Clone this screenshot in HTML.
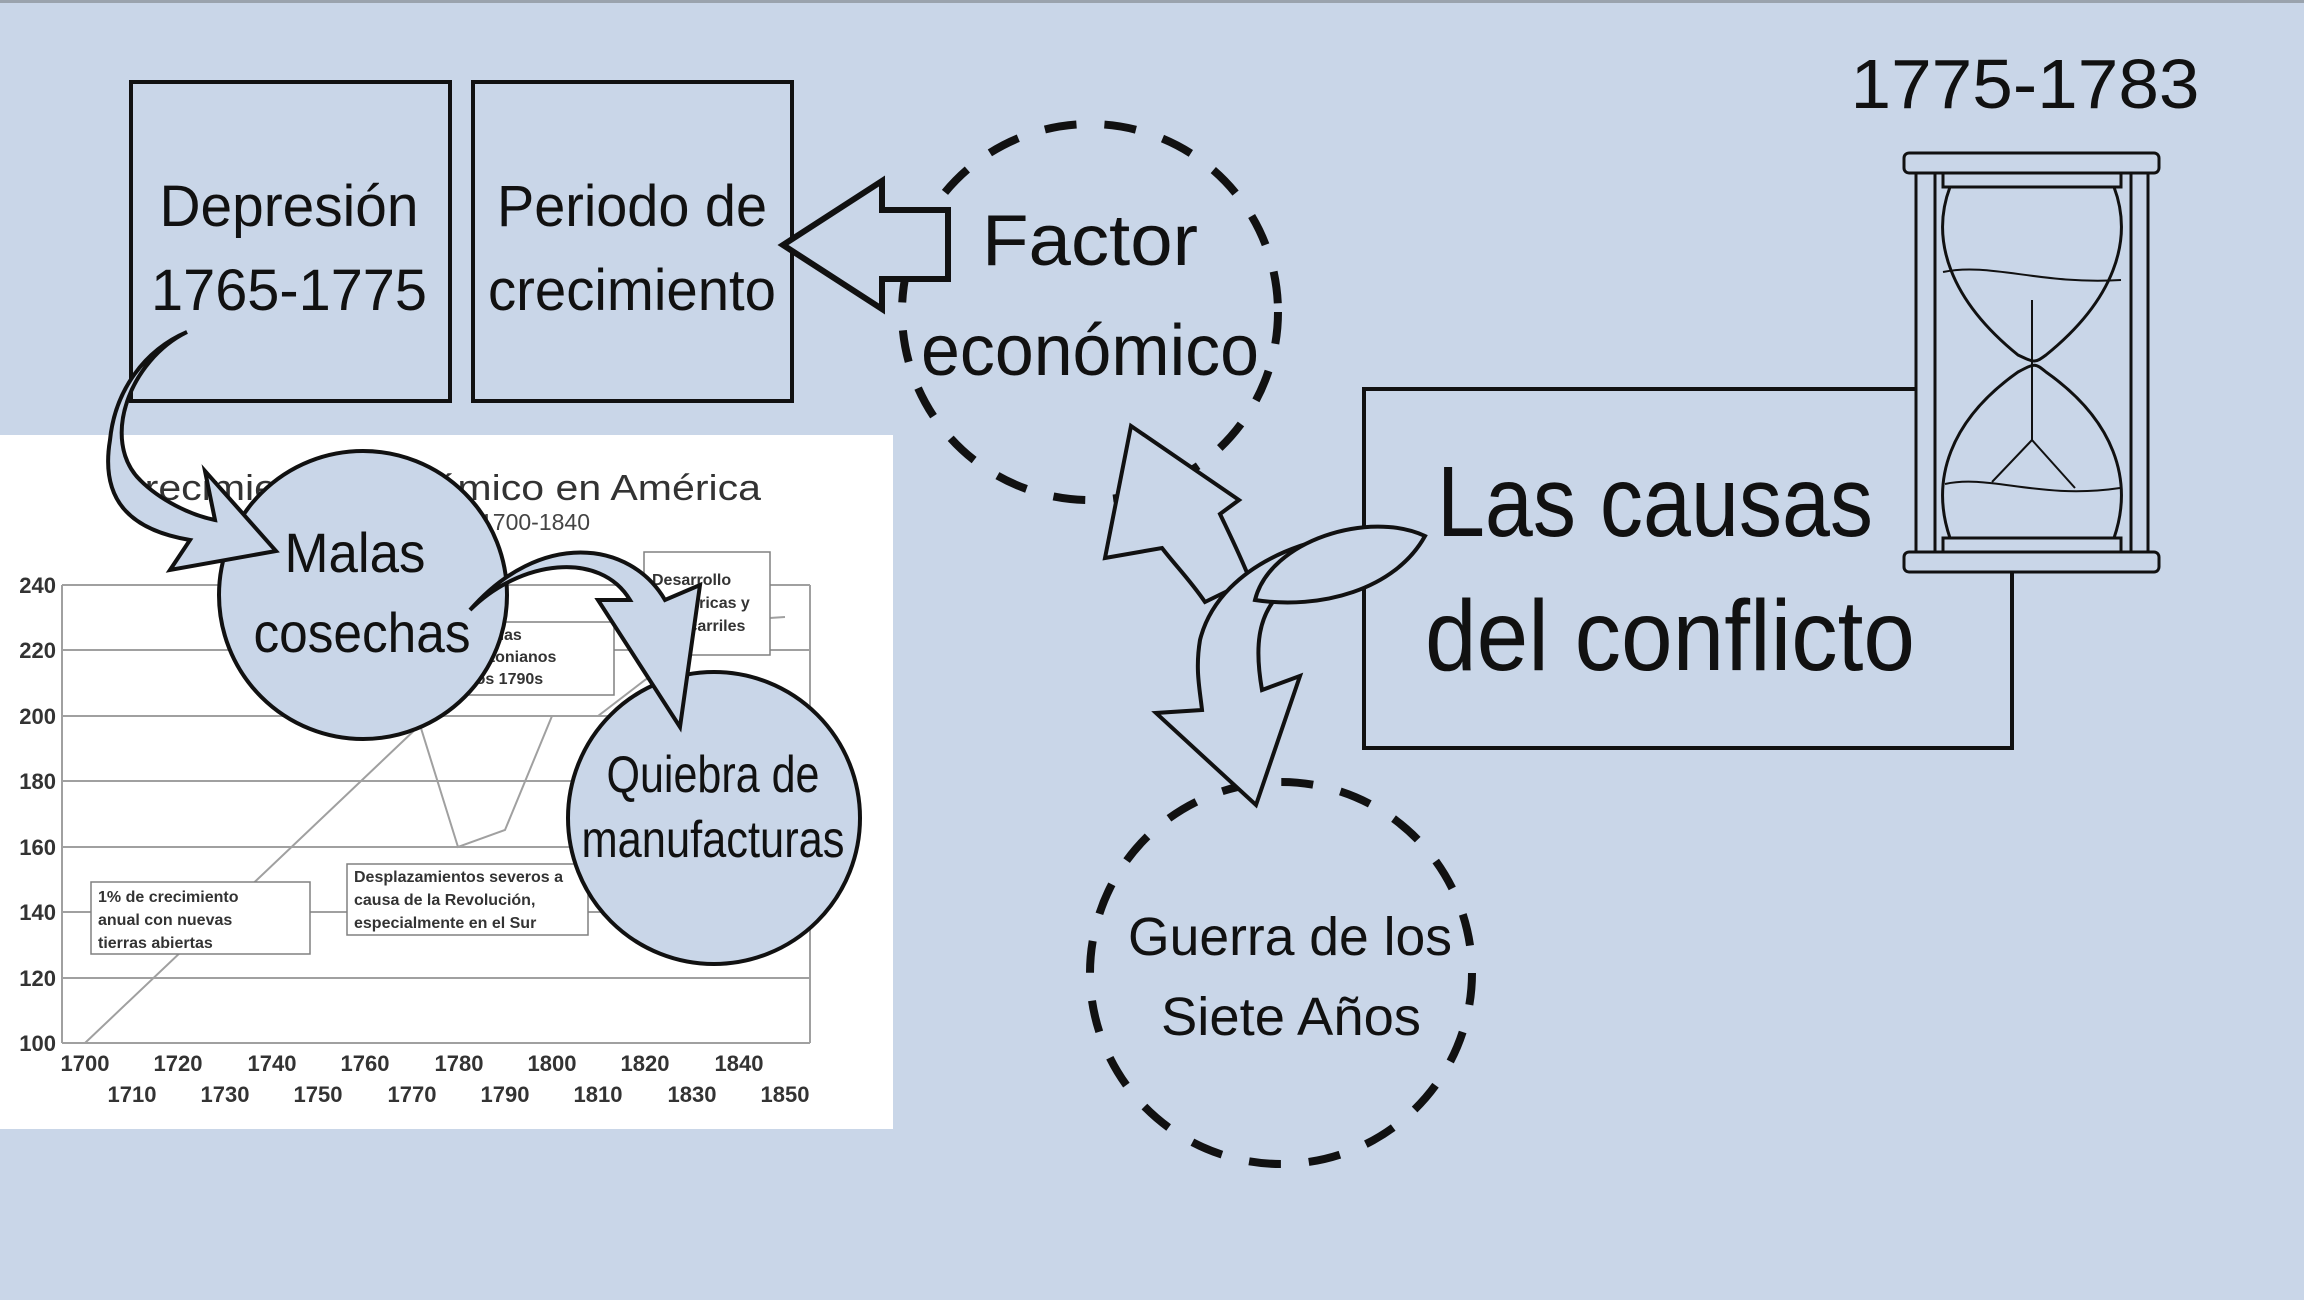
<!DOCTYPE html>
<html><head><meta charset="utf-8"><style>
html,body{margin:0;padding:0;background:#c9d6e8;}
svg{display:block;}
text{font-family:"Liberation Sans",sans-serif;}
</style></head><body>
<svg width="2304" height="1300" viewBox="0 0 2304 1300" xmlns="http://www.w3.org/2000/svg">
<rect x="0" y="0" width="2304" height="1300" fill="#c9d6e8"/>
<rect x="0" y="0" width="2304" height="3" fill="#9aa3ad"/>

<!-- chart -->
<rect x="0" y="435" width="893" height="694" fill="#ffffff"/>
<g stroke="#a0a0a0" stroke-width="2" fill="none">
  <line x1="62" y1="585" x2="810" y2="585"/>
  <line x1="62" y1="650" x2="810" y2="650"/>
  <line x1="62" y1="716" x2="810" y2="716"/>
  <line x1="62" y1="781" x2="810" y2="781"/>
  <line x1="62" y1="847" x2="810" y2="847"/>
  <line x1="62" y1="912" x2="810" y2="912"/>
  <line x1="62" y1="978" x2="810" y2="978"/>
  <line x1="62" y1="1043" x2="810" y2="1043"/>
  <line x1="62" y1="585" x2="62" y2="1043"/>
  <line x1="810" y1="585" x2="810" y2="1043"/>
  <polyline points="85,1043 420,725 458,847 505,830 552,716 598,716 645,680 692,650 739,620 785,617"/>
</g>
<g stroke="#808080" stroke-width="1.5" fill="#fff">
  <rect x="91" y="882" width="219" height="72"/>
  <rect x="347" y="864" width="241" height="71"/>
  <rect x="441" y="622" width="173" height="73"/>
  <rect x="644" y="552" width="126" height="103"/>
</g>
<g font-size="16" font-weight="bold" fill="#333">
  <text x="98" y="902">1% de crecimiento</text>
  <text x="98" y="925">anual con nuevas</text>
  <text x="98" y="948">tierras abiertas</text>
  <text x="354" y="882">Desplazamientos severos a</text>
  <text x="354" y="905">causa de la Revolución,</text>
  <text x="354" y="928">especialmente en el Sur</text>
  <text x="448" y="640">Reformas</text>
  <text x="448" y="662">hamiltonianos</text>
  <text x="448" y="684">de los 1790s</text>
  <text x="652" y="585">Desarrollo</text>
  <text x="652" y="608">de fábricas y</text>
  <text x="652" y="631">ferrocarriles</text>
</g>
<text x="115" y="500" font-size="36" fill="#333" textLength="646" lengthAdjust="spacingAndGlyphs">Crecimiento económico en América</text>
<text x="480" y="530" font-size="23" fill="#444">1700-1840</text>
<g font-size="22" font-weight="bold" fill="#333" text-anchor="end">
  <text x="56" y="593">240</text><text x="56" y="658">220</text><text x="56" y="724">200</text>
  <text x="56" y="789">180</text><text x="56" y="855">160</text><text x="56" y="920">140</text>
  <text x="56" y="986">120</text><text x="56" y="1051">100</text>
</g>
<g font-size="22" font-weight="bold" fill="#333" text-anchor="middle">
  <text x="85" y="1071">1700</text><text x="178" y="1071">1720</text><text x="272" y="1071">1740</text>
  <text x="365" y="1071">1760</text><text x="459" y="1071">1780</text><text x="552" y="1071">1800</text>
  <text x="645" y="1071">1820</text><text x="739" y="1071">1840</text>
  <text x="132" y="1102">1710</text><text x="225" y="1102">1730</text><text x="318" y="1102">1750</text>
  <text x="412" y="1102">1770</text><text x="505" y="1102">1790</text><text x="598" y="1102">1810</text>
  <text x="692" y="1102">1830</text><text x="785" y="1102">1850</text>
</g>

<!-- top boxes -->
<g stroke="#111" stroke-width="4" fill="none">
  <rect x="131" y="82" width="319" height="319"/>
  <rect x="473" y="82" width="319" height="319"/>
</g>
<g font-size="58" fill="#111" text-anchor="middle">
  <text x="289" y="226" textLength="259" lengthAdjust="spacingAndGlyphs">Depresión</text>
  <text x="289" y="310" textLength="276" lengthAdjust="spacingAndGlyphs">1765-1775</text>
  <text x="632" y="226" textLength="270" lengthAdjust="spacingAndGlyphs">Periodo de</text>
  <text x="632" y="310" textLength="288" lengthAdjust="spacingAndGlyphs">crecimiento</text>
</g>

<!-- Factor económico dashed circle -->
<circle cx="1090" cy="312" r="188" fill="none" stroke="#111" stroke-width="8" stroke-dasharray="32 28"/>

<!-- left open arrow -->
<path d="M948,210 L882,210 L882,181 L783,245 L882,309 L882,279 L948,279 Z" fill="#c9d6e8" stroke="#111" stroke-width="6" stroke-linejoin="miter"/>

<g font-size="72" fill="#111" text-anchor="middle">
  <text x="1090" y="265" textLength="216" lengthAdjust="spacingAndGlyphs">Factor</text>
  <text x="1090" y="375" textLength="338" lengthAdjust="spacingAndGlyphs">económico</text>
</g>

<!-- Las causas box -->
<rect x="1364" y="389" width="648" height="359" fill="none" stroke="#111" stroke-width="4"/>
<g font-size="100" fill="#111">
  <text x="1437" y="536" textLength="436" lengthAdjust="spacingAndGlyphs">Las causas</text>
  <text x="1425" y="670" textLength="490" lengthAdjust="spacingAndGlyphs">del conflicto</text>
</g>
<text x="2025" y="108" font-size="70" fill="#111" text-anchor="middle" textLength="349" lengthAdjust="spacingAndGlyphs">1775-1783</text>

<!-- hourglass -->
<g stroke="#111" stroke-width="3" fill="#c9d6e8">
  <rect x="1935" y="170" width="196" height="385" stroke="none"/>
  <rect x="1916" y="170" width="19" height="385"/>
  <rect x="2131" y="170" width="17" height="385"/>
  <rect x="1904" y="153" width="255" height="20" rx="5"/>
  <rect x="1904" y="552" width="255" height="20" rx="5"/>
  <rect x="1943" y="173" width="178" height="14"/>
  <rect x="1943" y="538" width="178" height="14"/>
  <path d="M1950,187 C1930,240 1950,300 2018,355 C2035,363 2035,363 2046,355 C2114,300 2134,240 2114,187 Z" fill="none"/>
  <path d="M1950,538 C1930,480 1950,420 2018,372 C2035,363 2035,363 2046,372 C2114,420 2134,480 2114,538 Z" fill="none"/>
  <path d="M1943,272 C1990,262 2040,285 2121,280" fill="none" stroke-width="2"/>
  <path d="M1945,484 C1990,474 2040,500 2120,488" fill="none" stroke-width="2"/>
  <line x1="2032" y1="300" x2="2032" y2="440" stroke-width="2"/>
  <path d="M2032,440 L1992,482 M2032,440 L2075,488" fill="none" stroke-width="2"/>
</g>

<!-- Guerra dashed circle -->
<circle cx="1281" cy="973" r="191" fill="none" stroke="#111" stroke-width="8" stroke-dasharray="32 28"/>
<g font-size="54" fill="#111" text-anchor="middle">
  <text x="1290" y="955" textLength="324" lengthAdjust="spacingAndGlyphs">Guerra de los</text>
  <text x="1291" y="1035" textLength="260" lengthAdjust="spacingAndGlyphs">Siete Años</text>
</g>

<!-- up arrow to Factor -->
<path d="M1205,602 C1190,580 1175,565 1162,548 L1105,558 L1131,426 L1239,500 L1220,514 C1230,535 1240,555 1250,580 Z" fill="#c9d6e8" stroke="#111" stroke-width="4" stroke-linejoin="miter"/>
<!-- down arrow to Guerra with leaf -->
<path d="M1425,536 C1330,520 1220,560 1200,640 C1195,670 1200,690 1202,710 L1156,713 L1256,805 L1300,676 L1262,690 C1255,650 1255,610 1290,585 C1320,560 1380,545 1425,536 Z" fill="#c9d6e8" stroke="#111" stroke-width="4" stroke-linejoin="miter"/>
<path d="M1425,536 C1370,510 1270,540 1255,600 C1320,610 1395,590 1425,536 Z" fill="#c9d6e8" stroke="#111" stroke-width="4"/>

<!-- Malas cosechas -->
<circle cx="363" cy="595" r="144" fill="#c9d6e8" stroke="#111" stroke-width="4"/>
<g font-size="56" fill="#111" text-anchor="middle">
  <text x="355" y="572" textLength="141" lengthAdjust="spacingAndGlyphs">Malas</text>
  <text x="362" y="652" textLength="217" lengthAdjust="spacingAndGlyphs">cosechas</text>
</g>
<!-- Quiebra -->
<circle cx="714" cy="818" r="146" fill="#c9d6e8" stroke="#111" stroke-width="4"/>
<g font-size="52" fill="#111" text-anchor="middle">
  <text x="713" y="792" textLength="213" lengthAdjust="spacingAndGlyphs">Quiebra de</text>
  <text x="713" y="857" textLength="263" lengthAdjust="spacingAndGlyphs">manufacturas</text>
</g>

<!-- curved arrow Depresión -> Malas -->
<path d="M187,332 C130,360 100,440 140,480 C160,500 190,515 215,520 L205,471 L276,551 L170,570 L190,540 C130,530 100,500 110,440 C115,390 145,350 187,332 Z" fill="#c9d6e8" stroke="#111" stroke-width="4" stroke-linejoin="miter"/>
<!-- curved arrow Malas -> Quiebra -->
<path d="M470,610 C520,560 600,550 630,600 L598,600 L680,727 L700,585 L665,600 C630,540 540,530 470,610 Z" fill="#c9d6e8" stroke="#111" stroke-width="4" stroke-linejoin="miter"/>
</svg>
</body></html>
